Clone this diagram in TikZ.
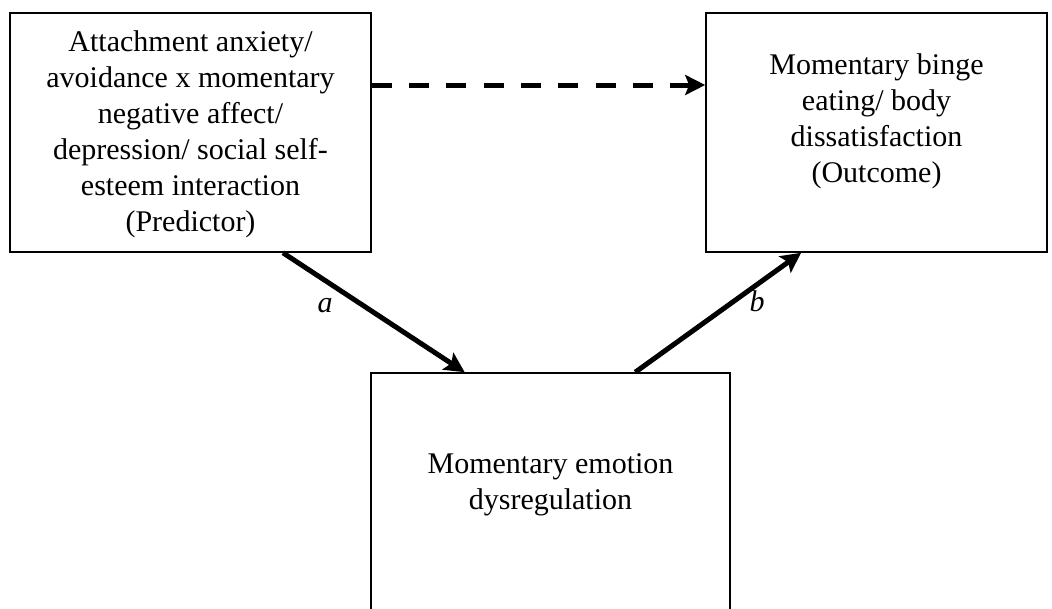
\documentclass[tikz,border=0pt]{standalone}
\usepackage{fontspec}
\setmainfont{Liberation Serif}
\usetikzlibrary{arrows.meta,calc}

\begin{document}
\begin{tikzpicture}[x=1pt,y=-1pt,>={Stealth[length=20pt,width=20pt,inset=4pt]}, line join=miter]
	\tikzset{box/.style={draw,line width=1.6pt,inner sep=0pt},
		txt/.style={align=center,inner sep=0pt,font=\fontsize{30}{36}\selectfont},
		link/.style={->,line width=5pt}}
	\useasboundingbox (0,0) rectangle (1052,608);
	%\draw[gray!40] (0,0) grid[step=50] (1052,608);
	\node[box,minimum width=361pt,minimum height=239pt] (pred) at (190.5,132.5) {};
	\node[box,minimum width=341pt,minimum height=239pt] (outc) at (876.5,132.5) {};
	\node[box,minimum width=359pt,minimum height=266pt] (medi) at (550.5,506) {};
	\node[txt] (predtxt) at (190.5,134) {Attachment anxiety/\\avoidance x momentary\\negative affect/\\depression/ social self-\\esteem interaction\\(Predictor)};
	\node[txt] (outctxt) at (876.5,121) {Momentary binge\\eating/ body\\dissatisfaction\\(Outcome)};
	\node[txt] (meditxt) at (550.5,485) {Momentary emotion\\dysregulation};
	\draw[link,dash pattern=on 20pt off 17.3pt] ([yshift=47.5pt]pred.east)--([yshift=47.5pt]outc.west);
	\draw[link] ($(pred.south west)!0.755!(pred.south east)$)--($(medi.north west)!0.262!(medi.north east)$);
	\draw[link] ($(medi.north west)!0.735!(medi.north east)$)--($(outc.south west)!0.28!(outc.south east)$);
	\node[txt] (alab) at (325,306) {\textit{a}};
	\node[txt] (blab) at (757,301) {\textit{b}};
\end{tikzpicture}
\end{document}
